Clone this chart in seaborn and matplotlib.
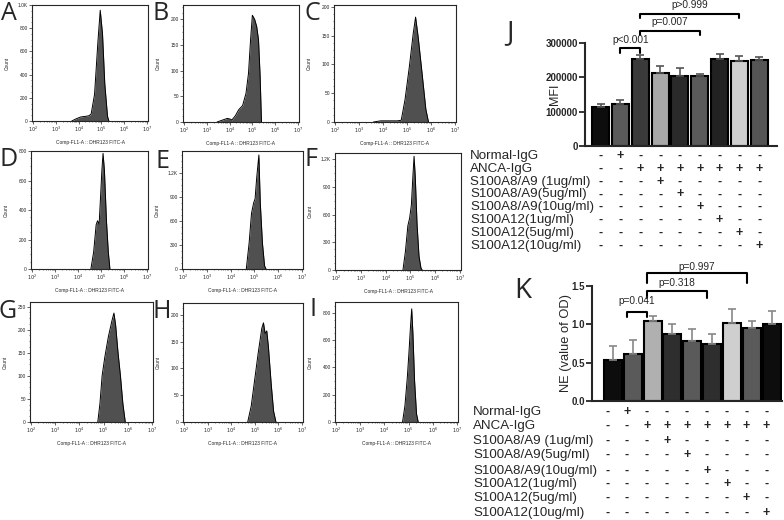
import numpy as np
import seaborn as sns
import matplotlib.pyplot as plt
from matplotlib.transforms import blended_transform_factory
from matplotlib.ticker import LogLocator, NullFormatter, AutoMinorLocator

# flow histograms: log10 fluorescence vs count
a_logx = [3.7, 3.9, 4.1, 4.3, 4.45, 4.55, 4.7, 4.85, 4.95, 5.05, 5.15, 5.27, 5.33]
a_count = [0, 20, 35, 40, 45, 60, 230, 690, 955, 750, 320, 40, 0]
b_logx = [3.45, 3.7, 3.9, 4.0, 4.1, 4.25, 4.4, 4.57, 4.72, 4.83, 4.92, 5.0, 5.1, 5.19, 5.27, 5.34, 5.4]
b_count = [0, 4, 7, 6, 4, 12, 24, 32, 56, 95, 160, 208, 200, 186, 160, 90, 0]
c_logx = [3.6, 3.9, 4.3, 4.6, 4.76, 4.92, 5.1, 5.26, 5.36, 5.47, 5.63, 5.79, 5.9]
c_count = [0, 2, 2, 2, 3, 39, 96, 153, 182, 147, 85, 22, 0]
d_logx = [4.56, 4.68, 4.79, 4.85, 4.92, 4.98, 5.04, 5.09, 5.15, 5.24, 5.32, 5.39]
d_count = [0, 115, 300, 327, 304, 484, 669, 784, 669, 323, 115, 0]
e_logx = [4.66, 4.78, 4.88, 4.97, 5.03, 5.1, 5.19, 5.25, 5.34, 5.43, 5.49]
e_count = [0, 330, 700, 830, 880, 1150, 1430, 825, 325, 40, 0]
f_logx = [4.7, 4.8, 4.9, 4.97, 5.04, 5.1, 5.15, 5.2, 5.27, 5.35, 5.43, 5.48]
f_count = [0, 200, 480, 560, 700, 1000, 1230, 1000, 500, 150, 20, 0]
g_logx = [4.76, 4.85, 4.94, 5.05, 5.2, 5.35, 5.43, 5.5, 5.6, 5.7, 5.8, 5.9]
g_count = [0, 40, 100, 140, 185, 220, 236, 210, 150, 100, 40, 0]
h_logx = [4.7, 4.85, 5.0, 5.15, 5.3, 5.37, 5.44, 5.51, 5.58, 5.7, 5.8, 5.9]
h_count = [0, 30, 80, 130, 175, 185, 165, 170, 140, 70, 20, 0]
i_logx = [4.75, 4.85, 4.95, 5.02, 5.08, 5.13, 5.18, 5.25, 5.33, 5.4]
i_count = [0, 120, 330, 520, 700, 830, 650, 300, 60, 0]

# bar panels
mfi_mean = [113000, 123000, 253000, 214000, 204000, 203000, 253000, 247000, 250000]
mfi_sem = [9000, 12000, 12000, 20000, 24000, 6000, 15000, 16000, 9000]
ne_mean = [0.53, 0.61, 1.04, 0.87, 0.78, 0.75, 1.02, 0.95, 1.00]
ne_sem = [0.19, 0.18, 0.07, 0.14, 0.16, 0.12, 0.18, 0.10, 0.18]

group_rows = ["Normal-IgG", "ANCA-IgG", "S100A8/A9 (1ug/ml)", "S100A8/A9(5ug/ml)",
              "S100A8/A9(10ug/ml)", "S100A12(1ug/ml)", "S100A12(5ug/ml)", "S100A12(10ug/ml)"]
treatment_signs = ["-+-------",
                   "--+++++++",
                   "---+-----",
                   "----+----",
                   "-----+---",
                   "------+--",
                   "-------+-",
                   "--------+"]

mfi_pvals = [("p<0.001", 1, 2), ("p=0.007", 2, 5), ("p>0.999", 2, 7)]
ne_pvals = [("p=0.041", 1, 2), ("p=0.318", 2, 5), ("p=0.997", 2, 7)]

W, H = 784, 520
sns.set_style("ticks")
plt.rcParams['font.family'] = ['Liberation Sans', 'DejaVu Sans']
fig = plt.figure(figsize=(7.84, 5.2), dpi=100)
LETTER_FONT = ["Open Sans", "DejaVu Sans"]


def add_ax(l, t, r, b):
    return fig.add_axes([l / W, 1 - b / H, (r - l) / W, (b - t) / H])


def flow_panel(box, letter, letter_xy, logx, count, ytop, yticks, ylabels):
    ax = add_ax(*box)
    ax.set_xscale("log")
    x = [10 ** v for v in logx]
    ax.fill_between(x, count, color="#505050", lw=0)
    sns.lineplot(x=x, y=count, ax=ax, color="black", lw=0.7, sort=False)
    ax.set_xlim(10 ** 1.95, 10 ** 7.05)
    ax.set_ylim(0, ytop)
    ax.set_xticks([10 ** k for k in range(2, 8)])
    ax.set_xticklabels([f"$10^{k}$" for k in range(2, 8)])
    ax.xaxis.set_minor_locator(LogLocator(base=10, subs=np.arange(2, 10)))
    ax.xaxis.set_minor_formatter(NullFormatter())
    ax.set_yticks(yticks)
    ax.set_yticklabels(ylabels)
    ax.yaxis.set_minor_locator(AutoMinorLocator(4))
    ax.tick_params(labelsize=3.5, length=2, width=0.5, pad=1)
    ax.tick_params(which="minor", length=1, width=0.4)
    for s in ax.spines.values():
        s.set_linewidth(0.8)
    ax.set_xlabel("Comp-FL1-A :: DHR123 FITC-A", fontsize=3.5)
    ax.xaxis.set_label_coords(0.5, -0.16)
    ax.set_ylabel("Count", fontsize=3.5)
    ax.yaxis.set_label_coords(-22 / (box[2] - box[0]), 0.5)
    fig.text(letter_xy[0] / W, 1 - letter_xy[1] / H, letter, fontsize=18,
             ha="center", va="center", family=LETTER_FONT)
    return ax


flow_panel((32, 5, 148, 121), "A", (9, 14), a_logx, a_count, 1000,
           [0, 200, 400, 600, 800, 1000], ["0", "200", "400", "600", "800", "1.0K"])
flow_panel((183, 5, 299, 122), "B", (161, 14), b_logx, b_count, 228,
           [0, 50, 100, 150, 200], ["0", "50", "100", "150", "200"])
flow_panel((334, 5, 456, 122), "C", (312, 14), c_logx, c_count, 203,
           [0, 50, 100, 150, 200], ["0", "50", "100", "150", "200"])
flow_panel((31, 151, 148, 269), "D", (9, 159), d_logx, d_count, 800,
           [0, 200, 400, 600, 800], ["0", "200", "400", "600", "800"])
flow_panel((182, 151, 303, 269), "E", (162, 161), e_logx, e_count, 1480,
           [0, 300, 600, 900, 1200], ["0", "300", "600", "900", "1.2K"])
flow_panel((335, 153, 461, 270), "F", (311, 160), f_logx, f_count, 1265,
           [0, 300, 600, 900, 1200], ["0", "300", "600", "900", "1.2K"])
flow_panel((30, 302, 153, 422), "G", (8, 311), g_logx, g_count, 260,
           [0, 50, 100, 150, 200, 250], ["0", "50", "100", "150", "200", "250"])
flow_panel((183, 303, 303, 422), "H", (162, 311), h_logx, h_count, 222,
           [0, 50, 100, 150, 200], ["0", "50", "100", "150", "200"])
flow_panel((335, 302, 458, 422), "I", (313, 309), i_logx, i_count, 880,
           [0, 200, 400, 600, 800], ["0", "200", "400", "600", "800"])


def bar_panel(box, mean, sem, colors, width, xlim, ylim, yticks, ylabels, ecolor):
    ax = add_ax(*box)
    groups = list(range(len(mean)))
    sns.barplot(x=groups, y=mean, hue=groups, palette=dict(zip(groups, colors)),
                legend=False, width=width, edgecolor="black", linewidth=1.5,
                errorbar=None, ax=ax)
    ax.errorbar(groups, mean, yerr=[[0] * len(sem), sem], fmt="none",
                ecolor=ecolor, elinewidth=1.2, capsize=3, capthick=1.2)
    ax.set_xlim(*xlim)
    ax.set_ylim(*ylim)
    ax.set_xticks([])
    ax.set_yticks(yticks)
    ax.set_yticklabels(ylabels, fontweight="bold")
    sns.despine(ax=ax)
    for s in ["left", "bottom"]:
        ax.spines[s].set_linewidth(1.5)
    ax.tick_params(axis="y", labelsize=7, length=4, width=1.3, pad=1)
    return ax


def brackets(ax, pvals, dx, levels):
    for (label, i, j), (y, leg, ty) in zip(pvals, levels):
        ax.plot([i + dx, i + dx, j + dx, j + dx], [leg, y, y, leg], color="black",
                lw=1.5, clip_on=False)
        ax.text((i + j) / 2 + dx, ty, label, ha="center", va="center",
                fontsize=7.3, clip_on=False)


def sign_table(ax, label_x, rows_y, dx):
    trans = blended_transform_factory(ax.transData, fig.transFigure)
    for y, lab, row in zip(rows_y, group_rows, treatment_signs):
        fig.text(label_x / W, 1 - y / H, lab, fontsize=9.6, ha="left", va="center")
        for i, s in enumerate(row):
            ax.text(i + dx, 1 - y / H, s, transform=trans, ha="center", va="center",
                    fontsize=9, fontweight="bold", clip_on=False)


# J
mfi_colors = ["#0d0d0d", "#5a5a5a", "#3a3a3a", "#a8a8a8", "#2a2a2a",
              "#5a5a5a", "#222222", "#cfcfcf", "#555555"]
axj = bar_panel((585, 43, 777, 146), mfi_mean, mfi_sem, mfi_colors, 0.86,
                (-0.79, 8.9), (0, 300000), [0, 100000, 200000, 300000],
                ["0", "100000", "200000", "300000"], "#555555")
axj.set_ylabel("MFI", fontsize=9)
axj.yaxis.set_label_coords(-0.125, 0.5)
brackets(axj, mfi_pvals, 0, [(285000, 271000, 309000), (335000, 323000, 361000),
                             (385000, 373000, 411000)])
sign_table(axj, 470, [156, 169, 182, 194.5, 207, 220, 233, 245.5], 0)
fig.text(510 / W, 1 - 33 / H, "J", fontsize=20, ha="center", va="center",
         family=LETTER_FONT)

# K
ne_colors = ["#0d0d0d", "#5a5a5a", "#b0b0b0", "#2e2e2e", "#5a5a5a",
             "#2e2e2e", "#cfcfcf", "#5a5a5a", "#0d0d0d"]
axk = bar_panel((592, 286, 782, 401), ne_mean, ne_sem, ne_colors, 0.9,
                (-1.04, 8.5), (0, 1.5), [0, 0.5, 1.0, 1.5],
                ["0.0", "0.5", "1.0", "1.5"], "#888888")
axk.set_ylabel("NE (value of OD)", fontsize=9.3)
axk.yaxis.set_label_coords(-0.107, 0.5)
brackets(axk, ne_pvals, -0.28, [(1.165, 1.10, 1.31), (1.43, 1.34, 1.545),
                                (1.67, 1.54, 1.754)])
sign_table(axk, 473, [411.7, 425.7, 440.7, 455, 470.7, 483.5, 498, 512.7], -0.28)
fig.text(523 / W, 1 - 291 / H, "K", fontsize=20, ha="center", va="center",
         family=LETTER_FONT)

fig.savefig("out.png", dpi=100)
